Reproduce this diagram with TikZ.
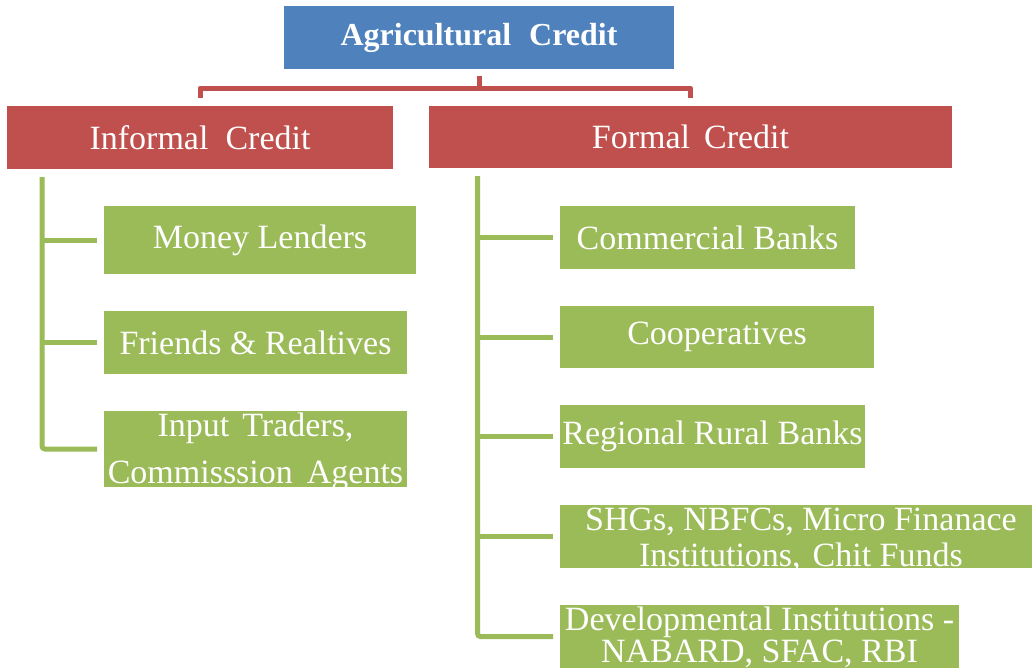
\documentclass[tikz,border=0pt]{standalone}
\usepackage{fontspec}
\setmainfont{Liberation Serif}
\definecolor{cblue}{HTML}{4F81BD}
\definecolor{cred}{HTML}{C0504D}
\definecolor{cgreen}{HTML}{9BBB59}
\begin{document}
\begin{tikzpicture}[x=1pt,y=-1pt,
  box/.style={rectangle, inner sep=0pt, outer sep=0pt},
  bluebox/.style={box, fill=cblue},
  redbox/.style={box, fill=cred},
  greenbox/.style={box, fill=cgreen},
  lbl/.style={text=white, inner sep=0pt, align=center, font=\fontsize{34}{40}\selectfont},
  redline/.style={draw=cred, line width=5pt, line join=round},
  greenline/.style={draw=cgreen, line width=5pt, rounded corners=3pt}
]
\useasboundingbox (0,0) rectangle (1032,670);

% boxes
\node[bluebox, minimum width=390pt, minimum height=63pt] (title) at (479,37.5) {};
\node[redbox, minimum width=386pt, minimum height=63pt] (informal) at (200,137.5) {};
\node[redbox, minimum width=523pt, minimum height=62pt] (formal) at (690.5,137) {};

\node[greenbox, minimum width=312pt, minimum height=68pt] (money) at (260,240) {};
\node[greenbox, minimum width=303pt, minimum height=63pt] (friends) at (255.5,342.5) {};
\node[greenbox, minimum width=303pt, minimum height=76pt] (input) at (255.5,449) {};

\node[greenbox, minimum width=295pt, minimum height=63pt] (commercial) at (707.5,237.5) {};
\node[greenbox, minimum width=314pt, minimum height=62pt] (coop) at (717,337) {};
\node[greenbox, minimum width=305pt, minimum height=63pt] (regional) at (712.5,436.5) {};
\node[greenbox, minimum width=472pt, minimum height=63pt] (shg) at (796,536.5) {};
\node[greenbox, minimum width=399pt, minimum height=63pt] (dev) at (759.5,636.5) {};

% texts
\node[lbl, font=\bfseries\fontsize{32}{38}\selectfont] (title-t) at (title) {Agricultural\hspace{18pt}Credit};
\node[lbl] (informal-t) at (informal) {Informal\hspace{17pt}Credit};
\node[lbl] (formal-t) at (formal) {Formal\hspace{14pt}Credit};
\node[lbl] (money-t) at (money) {Money Lenders};
\node[lbl] (friends-t) at (friends) {Friends \& Realtives};
\node[lbl, font=\fontsize{34}{47}\selectfont] (input-t) at ([yshift=-3pt]input.center) {Input\hspace{13pt}Traders,\\Commisssion\hspace{14pt}Agents};
\node[lbl] (commercial-t) at (commercial) {Commercial Banks};
\node[lbl] (coop-t) at (coop) {Cooperatives};
\node[lbl] (regional-t) at (regional) {Regional Rural Banks};
\node[lbl, font=\fontsize{34}{36}\selectfont] (shg-t) at ([xshift=5pt,yshift=-3pt]shg.center) {SHGs, NBFCs, Micro Finanace\\Institutions,\hspace{12pt}Chit Funds};
\node[lbl, font=\fontsize{34}{32}\selectfont] (dev-t) at ([yshift=-1pt]dev.center) {Developmental Institutions -\\NABARD, SFAC, RBI};

% red connectors
\draw[redline] ([yshift=-7pt]title.south) -- ++(0,12);
\draw[redline] ([yshift=8pt]informal.north) -- ++(0,-10) -| ([yshift=8pt]formal.north);

% left tree
\coordinate (lt) at ([xshift=35pt,yshift=-8pt]informal.south west);
\draw[greenline] (lt) |- ([xshift=-7pt]input.west);
\draw[greenline] ([xshift=-7pt]money.west) -- (money.west -| lt);
\draw[greenline] ([xshift=-7pt]friends.west) -- (friends.west -| lt);

% right tree
\coordinate (rt) at ([xshift=48.5pt,yshift=-8pt]formal.south west);
\draw[greenline] (rt) |- ([xshift=-7pt]dev.west);
\draw[greenline] ([xshift=-7pt]commercial.west) -- (commercial.west -| rt);
\draw[greenline] ([xshift=-7pt]coop.west) -- (coop.west -| rt);
\draw[greenline] ([xshift=-7pt]regional.west) -- (regional.west -| rt);
\draw[greenline] ([xshift=-7pt]shg.west) -- (shg.west -| rt);
\end{tikzpicture}
\end{document}
